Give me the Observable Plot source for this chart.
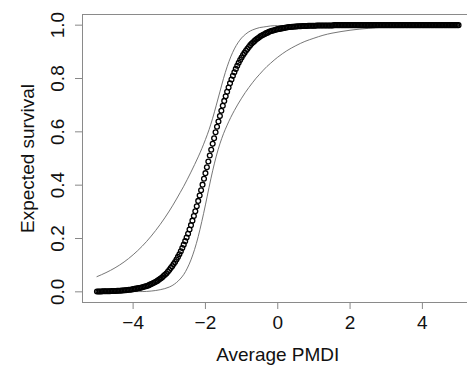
<!DOCTYPE html>
<html>
<head>
<meta charset="utf-8">
<script src="https://cdn.jsdelivr.net/npm/d3@7"></script>
<script src="https://cdn.jsdelivr.net/npm/@observablehq/plot@0.6"></script>
<style>
html, body { margin: 0; padding: 0; overflow: hidden; background: white; }
</style>
</head>
<body>
<div id="chart"></div>
<script>
// Tick values
const xTicks = [-4, -2, 0, 2, 4];
const yTicks = [0, 0.2, 0.4, 0.6, 0.8, 1.0];

// Expected survival (open circles)
const meanX = [
-5,-4.96,-4.92,-4.88,-4.84,-4.8,-4.76,-4.72,-4.68,-4.64,
-4.6,-4.56,-4.52,-4.48,-4.44,-4.4,-4.36,-4.32,-4.28,-4.24,
-4.2,-4.16,-4.12,-4.08,-4.04,-4,-3.96,-3.92,-3.88,-3.84,
-3.8,-3.76,-3.72,-3.68,-3.64,-3.6,-3.56,-3.52,-3.48,-3.44,
-3.4,-3.36,-3.32,-3.28,-3.24,-3.2,-3.16,-3.12,-3.08,-3.04,
-3,-2.96,-2.92,-2.88,-2.84,-2.8,-2.76,-2.72,-2.68,-2.64,
-2.6,-2.56,-2.52,-2.48,-2.44,-2.4,-2.36,-2.32,-2.28,-2.24,
-2.2,-2.16,-2.12,-2.08,-2.04,-2,-1.96,-1.92,-1.88,-1.84,
-1.8,-1.76,-1.72,-1.68,-1.64,-1.6,-1.56,-1.52,-1.48,-1.44,
-1.4,-1.36,-1.32,-1.28,-1.24,-1.2,-1.16,-1.12,-1.08,-1.04,
-1,-0.96,-0.92,-0.88,-0.84,-0.8,-0.76,-0.72,-0.68,-0.64,
-0.6,-0.56,-0.52,-0.48,-0.44,-0.4,-0.36,-0.32,-0.28,-0.24,
-0.2,-0.16,-0.12,-0.08,-0.04,0,0.04,0.08,0.12,0.16,
0.2,0.24,0.28,0.32,0.36,0.4,0.44,0.48,0.52,0.56,
0.6,0.64,0.68,0.72,0.76,0.8,0.84,0.88,0.92,0.96,
1,1.04,1.08,1.12,1.16,1.2,1.24,1.28,1.32,1.36,
1.4,1.44,1.48,1.52,1.56,1.6,1.64,1.68,1.72,1.76,
1.8,1.84,1.88,1.92,1.96,2,2.04,2.08,2.12,2.16,
2.2,2.24,2.28,2.32,2.36,2.4,2.44,2.48,2.52,2.56,
2.6,2.64,2.68,2.72,2.76,2.8,2.84,2.88,2.92,2.96,
3,3.04,3.08,3.12,3.16,3.2,3.24,3.28,3.32,3.36,
3.4,3.44,3.48,3.52,3.56,3.6,3.64,3.68,3.72,3.76,
3.8,3.84,3.88,3.92,3.96,4,4.04,4.08,4.12,4.16,
4.2,4.24,4.28,4.32,4.36,4.4,4.44,4.48,4.52,4.56,
4.6,4.64,4.68,4.72,4.76,4.8,4.84,4.88,4.92,4.96,
5];
const meanY = [
0.001,0.001,0.001,0.001,0.002,0.002,0.002,0.002,0.002,0.002,
0.003,0.003,0.003,0.003,0.004,0.004,0.004,0.005,0.005,0.006,
0.006,0.007,0.008,0.008,0.009,0.010,0.011,0.012,0.013,0.014,
0.015,0.016,0.018,0.020,0.021,0.023,0.025,0.028,0.030,0.033,
0.036,0.039,0.042,0.046,0.050,0.054,0.059,0.064,0.069,0.075,
0.082,0.089,0.096,0.104,0.112,0.121,0.131,0.141,0.152,0.164,
0.177,0.190,0.204,0.218,0.234,0.250,0.267,0.284,0.302,0.321,
0.341,0.361,0.381,0.402,0.424,0.445,0.467,0.489,0.511,0.533,
0.555,0.576,0.598,0.619,0.639,0.659,0.679,0.698,0.716,0.733,
0.750,0.766,0.782,0.796,0.810,0.823,0.836,0.848,0.859,0.869,
0.879,0.888,0.896,0.904,0.911,0.918,0.925,0.931,0.936,0.941,
0.946,0.950,0.954,0.958,0.961,0.964,0.967,0.970,0.972,0.975,
0.977,0.979,0.980,0.982,0.984,0.985,0.986,0.987,0.988,0.989,
0.990,0.991,0.992,0.993,0.993,0.994,0.994,0.995,0.995,0.996,
0.996,0.996,0.997,0.997,0.997,0.997,0.998,0.998,0.998,0.998,
0.998,0.998,0.999,0.999,0.999,0.999,0.999,0.999,0.999,0.999,
0.999,0.999,0.999,0.999,1,1,1,1,1,1,
1,1,1,1,1,1,1,1,1,1,
1,1,1,1,1,1,1,1,1,1,
1,1,1,1,1,1,1,1,1,1,
1,1,1,1,1,1,1,1,1,1,
1,1,1,1,1,1,1,1,1,1,
1,1,1,1,1,1,1,1,1,1,
1,1,1,1,1,1,1,1,1,1,
1,1,1,1,1,1,1,1,1,1,
1];

// Confidence band (thin grey lines)
const bandX = [-5,-4.75,-4.5,-4.25,-4,-3.75,-3.5,-3.25,-3,
-2.9,-2.8,-2.7,-2.6,-2.5,-2.4,-2.3,-2.2,-2.1,-2,
-1.9,-1.8,-1.7,-1.6,-1.5,-1.4,-1.3,-1.2,-1.1,-1,
-0.9,-0.8,-0.7,-0.6,-0.5,-0.4,-0.3,-0.2,-0.1,0,
0.25,0.5,0.75,1,1.25,1.5,1.75,2,2.25,2.5,2.75,3,3.25,3.5,3.75,4,4.25,4.5,4.75,5];
const bandUpper = [0.057,0.072,0.090,0.112,0.139,0.171,0.209,0.253,0.303,
0.325,0.348,0.372,0.396,0.422,0.449,0.477,0.506,0.537,0.571,
0.608,0.651,0.700,0.750,0.800,0.844,0.881,0.911,0.934,0.952,
0.965,0.975,0.982,0.987,0.991,0.993,0.995,0.997,0.998,0.998,
0.999,1,1,1,1,1,1,1,1,1,1,1,1,1,1,1,1,1,1,1];
const bandLower = [0,0,0,0,0.001,0.001,0.003,0.008,0.018,
0.025,0.035,0.048,0.065,0.089,0.120,0.159,0.207,0.264,0.326,
0.392,0.454,0.509,0.555,0.593,0.625,0.654,0.680,0.704,0.726,
0.747,0.766,0.784,0.801,0.816,0.831,0.845,0.857,0.869,0.880,
0.904,0.923,0.939,0.951,0.962,0.970,0.976,0.981,0.985,0.988,0.991,0.993,0.994,0.996,0.997,0.997,0.998,0.998,0.999,0.999];

const xLabel = "Average PMDI";
const yLabel = "Expected survival";

const meanData = meanX.map((x, i) => ({x, y: meanY[i]}));
const bandData = bandX.map((x, i) => ({x, upper: bandUpper[i], lower: bandLower[i]}));

const chart = Plot.plot({
  width: 467,
  height: 366,
  marginLeft: 82,
  marginRight: -5.5,
  marginTop: 14,
  marginBottom: 64,
  x: {domain: [-5.4, 5.4]},
  y: {domain: [-0.04, 1.04]},
  style: {
    fontFamily: "'Liberation Sans', Arial, sans-serif",
    fontSize: "19px",
    color: "#111",
    background: "white",
    overflow: "hidden"
  },
  marks: [
    Plot.frame({stroke: "#8a8a8a", strokeWidth: 1}),
    Plot.line(bandData, {x: "x", y: "upper", stroke: "#666", strokeWidth: 0.9, curve: "monotone-x"}),
    Plot.line(bandData, {x: "x", y: "lower", stroke: "#666", strokeWidth: 0.9, curve: "monotone-x"}),
    Plot.dot(meanData, {x: "x", y: "y", r: 2.4, stroke: "#000", strokeWidth: 1.3, fill: "none"}),
    Plot.axisX({ticks: xTicks, tickSize: 7, tickPadding: 6, tickFormat: d3.format("d"), stroke: "#888", label: null}),
    Plot.axisY({ticks: yTicks, tickSize: 7, tickRotate: -90, tickPadding: 12, tickFormat: d3.format(".1f"), stroke: "#888", label: null}),
    Plot.text([xLabel], {text: d => d, frameAnchor: "bottom", lineAnchor: "top", textAnchor: "middle", dy: 45, fontSize: 19}),
    Plot.text([yLabel], {text: d => d, frameAnchor: "left", rotate: -90, textAnchor: "middle", lineAnchor: "middle", dx: -55, fontSize: 19})
  ]
});
document.getElementById("chart").appendChild(chart);
</script>
</body>
</html>
